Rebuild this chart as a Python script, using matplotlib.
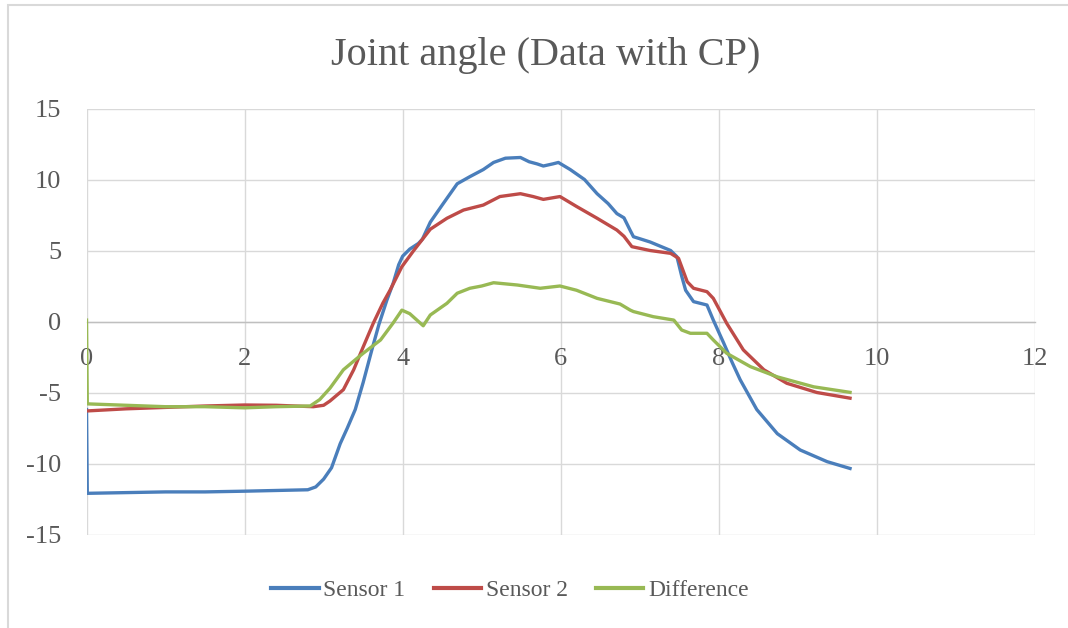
import matplotlib.pyplot as plt
from matplotlib.patches import Rectangle

# values (time vs. angle)
s1_x = [0, 0.01, 0.5, 1.0, 1.5, 2.0, 2.4, 2.8, 2.9, 3.0, 3.1, 3.21, 3.3, 3.4, 3.5,
        3.61, 3.7, 3.8, 3.88, 3.95, 4.0, 4.09, 4.2, 4.25, 4.35, 4.5, 4.69, 4.85,
        5.02, 5.15, 5.3, 5.49, 5.6, 5.7, 5.78, 5.9, 5.97, 6.12, 6.3, 6.46, 6.6,
        6.71, 6.8, 6.88, 6.92, 7.13, 7.39, 7.47, 7.53, 7.58, 7.68, 7.85, 7.93,
        8.06, 8.17, 8.27, 8.48, 8.74, 9.03, 9.37, 9.66]
s1_y = [-6.2, -12.1, -12.05, -12.0, -12.0, -11.95, -11.9, -11.85, -11.65, -11.1,
        -10.3, -8.6, -7.5, -6.2, -4.3, -2.0, -0.2, 1.5, 2.7, 4.0, 4.6, 5.1, 5.5,
        5.8, 7.0, 8.2, 9.7, 10.2, 10.7, 11.2, 11.5, 11.55, 11.25, 11.1, 10.95,
        11.1, 11.2, 10.7, 10.0, 9.0, 8.3, 7.6, 7.3, 6.4, 5.97, 5.6, 5.0, 4.56,
        3.2, 2.2, 1.4, 1.16, 0.1, -1.5, -2.9, -4.1, -6.2, -7.9, -9.05, -9.87,
        -10.35]

s2_x = [0, 0.5, 1.0, 1.5, 2.0, 2.4, 2.87, 3.0, 3.08, 3.25, 3.38, 3.5, 3.63, 3.75,
        3.84, 3.99, 4.14, 4.35, 4.56, 4.77, 5.02, 5.23, 5.49, 5.65, 5.78, 5.99,
        6.2, 6.46, 6.71, 6.8, 6.9, 7.13, 7.39, 7.49, 7.6, 7.68, 7.85, 7.93, 8.1,
        8.31, 8.57, 8.86, 9.24, 9.66]
s2_y = [-6.3, -6.15, -6.05, -5.95, -5.88, -5.9, -6.0, -5.9, -5.6, -4.8, -3.4,
        -1.8, -0.1, 1.3, 2.2, 3.86, 5.0, 6.5, 7.27, 7.85, 8.2, 8.8, 9.0, 8.8,
        8.6, 8.8, 8.1, 7.27, 6.44, 6.0, 5.27, 5.0, 4.8, 4.45, 2.8, 2.34, 2.1,
        1.63, -0.13, -2.0, -3.4, -4.35, -5.0, -5.4]

diff_x = [0, 0.01, 0.5, 1.0, 1.5, 2.0, 2.4, 2.83, 2.95, 3.08, 3.25, 3.4, 3.5,
          3.72, 3.88, 3.99, 4.09, 4.26, 4.35, 4.56, 4.69, 4.85, 5.0, 5.15, 5.3,
          5.45, 5.74, 5.99, 6.2, 6.46, 6.75, 6.88, 6.92, 7.17, 7.43, 7.53, 7.64,
          7.85, 7.93, 8.1, 8.4, 8.74, 9.2, 9.66]
diff_y = [0.1, -5.8, -5.9, -6.0, -6.0, -6.08, -6.0, -5.95, -5.5, -4.7, -3.4,
          -2.7, -2.24, -1.3, -0.1, 0.8, 0.55, -0.3, 0.46, 1.28, 1.99, 2.34, 2.5,
          2.73, 2.65, 2.57, 2.34, 2.5, 2.2, 1.63, 1.23, 0.8, 0.7, 0.34, 0.1,
          -0.6, -0.83, -0.83, -1.3, -2.24, -3.18, -3.9, -4.6, -4.99]

x_ticks = [0, 2, 4, 6, 8, 10, 12]
y_ticks = [-15, -10, -5, 0, 5, 10, 15]

text_col = '#595959'
grid_col = '#D9D9D9'
plt.rcParams['font.family'] = ['Liberation Serif', 'DejaVu Serif']
plt.rcParams['axes.unicode_minus'] = False  # Excel uses a plain hyphen

W, H = 1068, 628
fig = plt.figure(figsize=(W / 100, H / 100), dpi=100)
ax = fig.add_axes([86.5 / W, 1 - 534.5 / H, (1035 - 86.5) / W, (534.5 - 108.5) / H])

# outer chart border (left and top edges visible in the reference)
fig.patches.append(Rectangle((8 / W, -0.05), 1.0, 1 - 5 / H + 0.05,
                             transform=fig.transFigure, fill=False,
                             edgecolor=grid_col, lw=1.5))

ax.plot(s1_x, s1_y, color='#4A7EBB', lw=2.4, label='Sensor 1', zorder=3)
ax.plot(s2_x, s2_y, color='#BE4B48', lw=2.4, label='Sensor 2', zorder=3)
ax.plot(diff_x, diff_y, color='#98B954', lw=2.4, label='Difference', zorder=3)

ax.set_xlim(0, 12)
ax.set_ylim(-15, 15)
ax.set_xticks(x_ticks)
ax.set_yticks(y_ticks)
ax.grid(True, color=grid_col, lw=1.0)
ax.set_axisbelow(True)

for s in ['top', 'right', 'left']:
    ax.spines[s].set_visible(False)
ax.spines['bottom'].set_position(('data', 0))
ax.spines['bottom'].set_color('#BFBFBF')
ax.spines['bottom'].set_linewidth(1.0)
ax.spines['bottom'].set_zorder(1)

ax.tick_params(axis='x', length=0, pad=19, labelsize=19, labelcolor=text_col)
ax.tick_params(axis='y', length=0, pad=18, labelsize=19, labelcolor=text_col)

fig.text(546 / W, 1 - 56 / H, 'Joint angle (Data with CP)', ha='center',
         va='center', fontsize=29, color=text_col)

leg = fig.legend(loc='center', bbox_to_anchor=(510 / W, 1 - 590 / H), ncol=3,
                 frameon=False, fontsize=17, handlelength=2.0, handletextpad=0.2,
                 columnspacing=1.2)
for t in leg.get_texts():
    t.set_color(text_col)
for l in leg.get_lines():
    l.set_linewidth(3)

fig.savefig('out.png', dpi=100)
